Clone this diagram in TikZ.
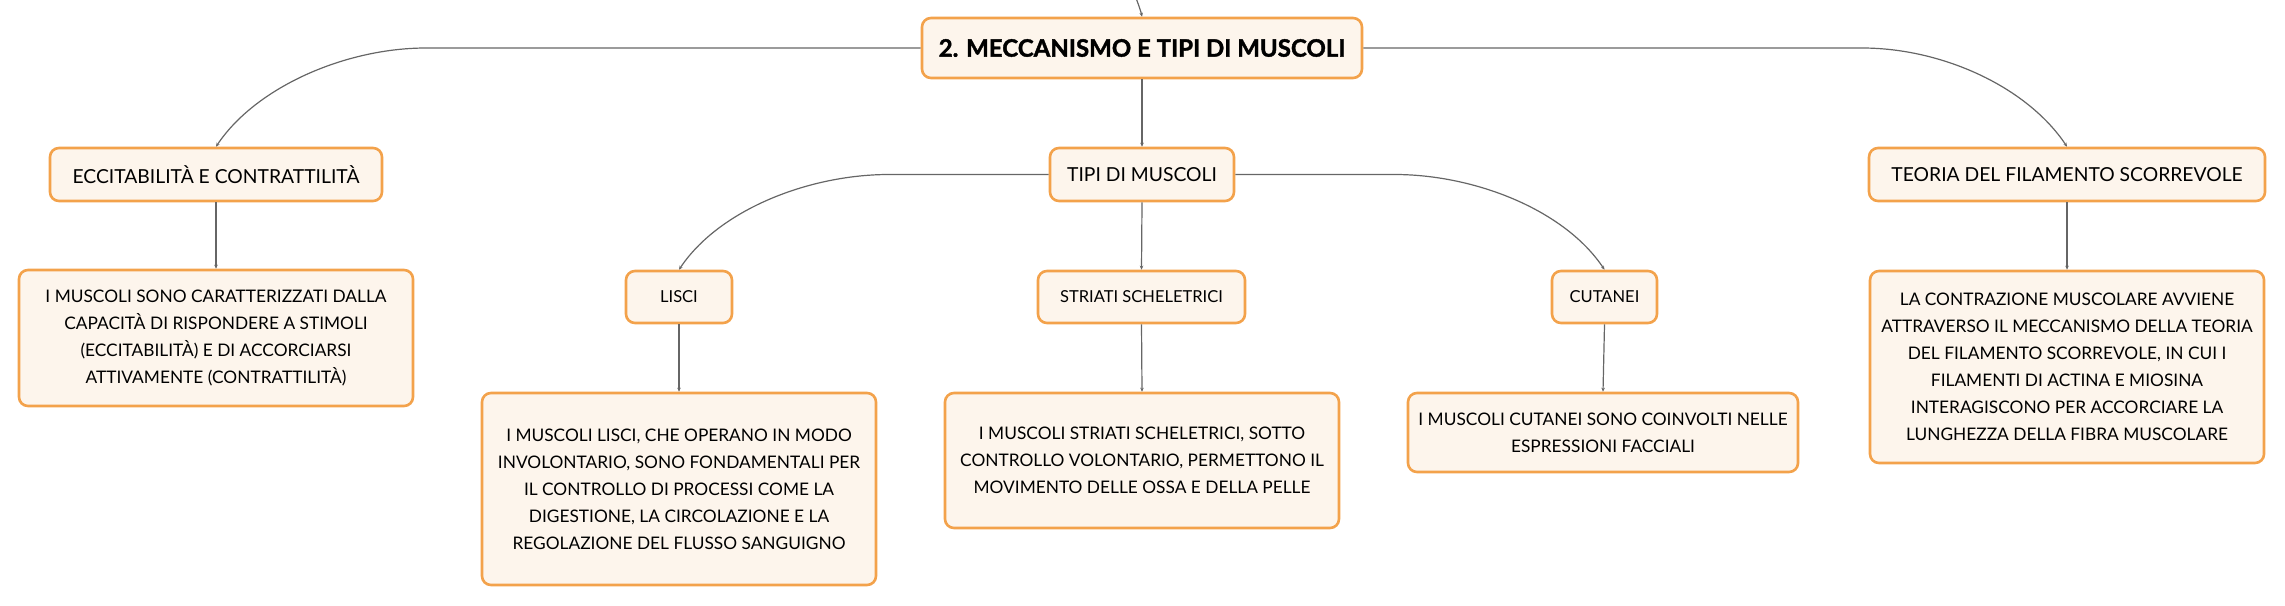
\documentclass[tikz,border=0pt]{standalone}
\usepackage{fontspec}
\setmainfont{Lato}
\newfontfamily\rootfont[BoldFeatures={FakeBold=1.6}]{Lato}
\usetikzlibrary{calc,arrows.meta}
\definecolor{boxline}{HTML}{F3A24B}
\definecolor{boxfill}{HTML}{FDF5EC}
\definecolor{linkc}{HTML}{666666}
\tikzset{
  box/.style={draw=boxline, line width=2.6pt, fill=boxfill, rounded corners=9pt,
    align=center, inner sep=0pt, text=black},
  rootbox/.style={box, font=\rootfont\fontsize{24}{28}\selectfont\bfseries},
  topicbox/.style={box, font=\fontsize{19.3}{27}\selectfont},
  subbox/.style={box, font=\fontsize{16.5}{27}\selectfont},
  textbox/.style={box, font=\fontsize{17.3}{27}\selectfont},
  conn/.style={draw=linkc, line width=1.2pt, -{Stealth[length=4pt,width=3.5pt]}},
}
\begin{document}
\begin{tikzpicture}[x=1pt,y=-1pt]
\useasboundingbox (0,0) rectangle (2285,605);
% nodes
\node[rootbox, minimum width=440pt, minimum height=60pt] (root) at (1142,48) {2. MECCANISMO E TIPI DI MUSCOLI};
\node[topicbox, minimum width=332pt, minimum height=53pt] (ecc) at (216,174.5) {ECCITABILITÀ E CONTRATTILITÀ};
\node[topicbox, minimum width=184pt, minimum height=53pt] (tipi) at (1142,174.5) {TIPI DI MUSCOLI};
\node[topicbox, minimum width=396pt, minimum height=53pt] (teoria) at (2067,174.5) {TEORIA DEL FILAMENTO SCORREVOLE};
\node[textbox, minimum width=394pt, minimum height=136pt] (eccd) at (216,338) {I MUSCOLI SONO CARATTERIZZATI DALLA\\CAPACITÀ DI RISPONDERE A STIMOLI\\(ECCITABILITÀ) E DI ACCORCIARSI\\ATTIVAMENTE (CONTRATTILITÀ)};
\node[textbox, minimum width=394pt, minimum height=192pt] (teoriad) at (2067,367) {LA CONTRAZIONE MUSCOLARE AVVIENE\\ATTRAVERSO IL MECCANISMO DELLA TEORIA\\DEL FILAMENTO SCORREVOLE, IN CUI I\\FILAMENTI DI ACTINA E MIOSINA\\INTERAGISCONO PER ACCORCIARE LA\\LUNGHEZZA DELLA FIBRA MUSCOLARE};
\node[subbox, minimum width=106pt, minimum height=52pt] (lisci) at (679,297) {LISCI};
\node[subbox, minimum width=207pt, minimum height=52pt] (striati) at (1141.5,297) {STRIATI SCHELETRICI};
\node[subbox, minimum width=105pt, minimum height=52pt] (cutanei) at (1604.5,297) {CUTANEI};
\node[textbox, minimum width=394pt, minimum height=192pt] (liscid) at (679,489) {I MUSCOLI LISCI, CHE OPERANO IN MODO\\INVOLONTARIO, SONO FONDAMENTALI PER\\IL CONTROLLO DI PROCESSI COME LA\\DIGESTIONE, LA CIRCOLAZIONE E LA\\REGOLAZIONE DEL FLUSSO SANGUIGNO};
\node[textbox, minimum width=394pt, minimum height=135pt] (striatid) at (1142,460.5) {I MUSCOLI STRIATI SCHELETRICI, SOTTO\\CONTROLLO VOLONTARIO, PERMETTONO IL\\MOVIMENTO DELLE OSSA E DELLA PELLE};
\node[textbox, minimum width=390pt, minimum height=79pt] (cutaneid) at (1603,432.5) {I MUSCOLI CUTANEI SONO COINVOLTI NELLE\\ESPRESSIONI FACCIALI};
\coordinate (above) at (1136,-2);
% connectors
\draw[conn] (above) .. controls (1139,6) and (1141,12) .. (root.north);
\draw[conn] (root.south) -- (tipi.north);
\draw[conn] (root.west) -- ($(ecc.north |- root.west)+(210,0)$)
  .. controls ($(ecc.north |- root.west)+(130,0)$) and ($(ecc.north)+(40,-60)$) .. (ecc.north);
\draw[conn] (root.east) -- ($(teoria.north |- root.east)+(-205,0)$)
  .. controls ($(teoria.north |- root.east)+(-125,0)$) and ($(teoria.north)+(-40,-60)$) .. (teoria.north);
\draw[conn] (tipi.west) -- ($(lisci.north |- tipi.west)+(210,0)$)
  .. controls ($(lisci.north |- tipi.west)+(130,0)$) and ($(lisci.north)+(40,-60)$) .. (lisci.north);
\draw[conn] (tipi.east) -- ($(cutanei.north |- tipi.east)+(-210,0)$)
  .. controls ($(cutanei.north |- tipi.east)+(-130,0)$) and ($(cutanei.north)+(-40,-60)$) .. (cutanei.north);
\draw[conn] (tipi.south) -- (striati.north);
\draw[conn] (ecc.south) -- (eccd.north);
\draw[conn] (teoria.south) -- (teoriad.north);
\draw[conn] (lisci.south) -- (liscid.north);
\draw[conn] (striati.south) -- (striatid.north);
\draw[conn] (cutanei.south) -- (cutaneid.north);
\end{tikzpicture}
\end{document}
